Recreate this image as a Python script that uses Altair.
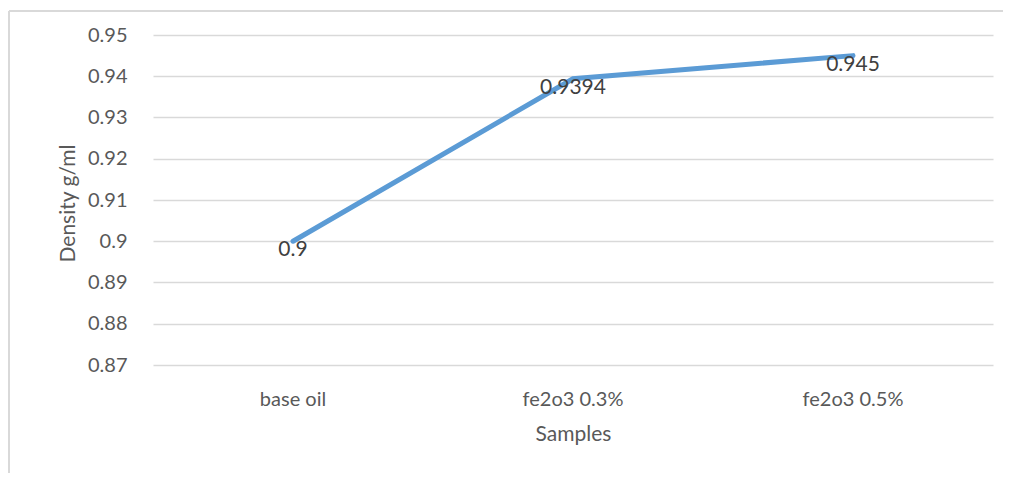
import altair as alt
import pandas as pd

samples = ["base oil", "fe2o3 0.3%", "fe2o3 0.5%"]
density = [0.9, 0.9394, 0.945]
labels = ["0.9", "0.9394", "0.945"]

df = pd.DataFrame({"Samples": samples, "Density": density, "label": labels})

FONT = "Lato"

x_scale = alt.Scale(type="band", domain=samples, paddingInner=0, paddingOuter=0)

x_enc = alt.X(
    "Samples:N",
    sort=samples,
    scale=x_scale,
    axis=alt.Axis(
        title="Samples",
        labelAngle=0,
        labelPadding=24,
        labelFontSize=20,
        labelColor="#595959",
        titleFontSize=21,
        titleColor="#595959",
        titleFontWeight="normal",
        titlePadding=14,
        domain=False,
        ticks=False,
        grid=False,
        labelFont=FONT,
        titleFont=FONT,
    ),
)

y_enc = alt.Y(
    "Density:Q",
    scale=alt.Scale(domain=[0.87, 0.95], zero=False, nice=False),
    axis=alt.Axis(
        title="Density  g/ml",
        values=[0.87, 0.88, 0.89, 0.9, 0.91, 0.92, 0.93, 0.94, 0.95],
        labelExpr="format(datum.value, '.2~f')",
        labelPadding=26,
        labelFontSize=20,
        labelColor="#595959",
        titleFontSize=21,
        titleColor="#595959",
        titleFontWeight="normal",
        titleX=-85,
        titleY=168,
        titleAlign="center",
        titleBaseline="middle",
        domain=False,
        ticks=False,
        grid=True,
        gridColor="#d9d9d9",
        gridWidth=1.5,
        labelFont=FONT,
        titleFont=FONT,
    ),
)

base = alt.Chart(df).encode(x=x_enc, y=y_enc)

line = base.mark_line(color="#5B9BD5", strokeWidth=5, strokeCap="round")

text = base.mark_text(
    fontSize=21, color="#404040", baseline="middle", align="center", dy=9, font=FONT
).encode(text="label:N")

top_border = alt.Chart(df).mark_rule(stroke="#d9d9d9", strokeWidth=2).encode(
    x=alt.value(-144), x2=alt.value(860), y=alt.value(-24)
)
left_border = alt.Chart(df).mark_rule(stroke="#d9d9d9", strokeWidth=2).encode(
    x=alt.value(-144), y=alt.value(-24), y2=alt.value(500)
)

chart = (
    alt.layer(top_border, left_border, line, text)
    .properties(
        width=840,
        height=330,
        autosize=alt.AutoSizeParams(type="none"),
        padding={"left": 145, "top": 27, "right": 10, "bottom": 108},
    )
    .configure(font=FONT)
    .configure_view(strokeWidth=0, stroke="transparent")
    .configure_axis(domain=False, ticks=False)
)

chart.save("out.html", embed_options={"renderer": "svg", "actions": False})
